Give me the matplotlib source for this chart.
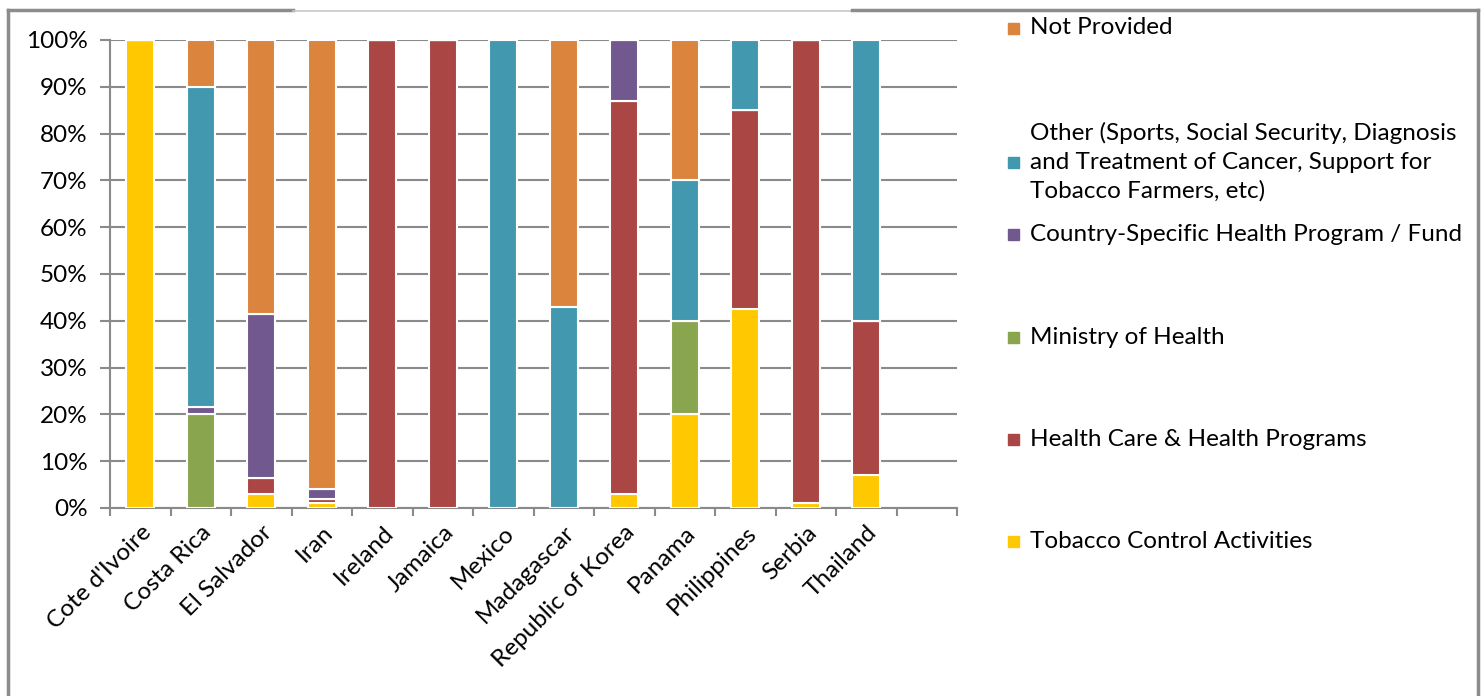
import numpy as np
import matplotlib
matplotlib.use("Agg")
import matplotlib.pyplot as plt
from matplotlib.lines import Line2D
from matplotlib.patches import Rectangle

plt.rcParams['font.family'] = ['Lato', 'DejaVu Sans']

# data (percent of each country's earmarked revenue)
countries = ["Cote d'Ivoire", "Costa Rica", "El Salvador", "Iran", "Ireland", "Jamaica",
             "Mexico", "Madagascar", "Republic of Korea", "Panama", "Philippines",
             "Serbia", "Thailand"]
tobacco   = [100, 0, 3, 1, 0, 0, 0, 0, 3, 20, 42.5, 1, 7]
health    = [0, 0, 3.5, 1, 100, 100, 0, 0, 84, 0, 42.5, 99, 33]
ministry  = [0, 20, 0, 0, 0, 0, 0, 0, 0, 20, 0, 0, 0]
country   = [0, 1.5, 35, 2, 0, 0, 0, 0, 13, 0, 0, 0, 0]
other     = [0, 68.5, 0, 0, 0, 0, 100, 43, 0, 30, 15, 0, 60]
not_prov  = [0, 10, 58.5, 96, 0, 0, 0, 57, 0, 30, 0, 0, 0]

series = [
    ("Tobacco Control Activities", tobacco, "#FFC800"),
    ("Health Care & Health Programs", health, "#AA4643"),
    ("Ministry of Health", ministry, "#89A54E"),
    ("Country-Specific Health Program / Fund", country, "#71588F"),
    ("Other (Sports, Social Security, Diagnosis\nand Treatment of Cancer, Support for\nTobacco Farmers, etc)", other, "#4198AF"),
    ("Not Provided", not_prov, "#DB843D"),
]

W, H = 1481, 696
fig = plt.figure(figsize=(W / 100, H / 100), dpi=100)

def fx(px):
    return px / W

def fy(py):
    return 1 - py / H

ax = fig.add_axes([fx(110), fy(508), fx(957) - fx(110), fy(40) - fy(508)])

x = np.arange(len(countries))
bottom = np.zeros(len(countries))
for name, vals, col in series:
    vals = np.array(vals, dtype=float)
    ax.bar(x, vals, 0.47, bottom=bottom, color=col, edgecolor="white", linewidth=1.5, zorder=3)
    bottom += vals

gray = "#8A8A8A"
fs = 17.5
ax.set_ylim(0, 100)
ax.set_xlim(-0.5, 13.5)
ax.set_yticks(np.arange(0, 101, 10))
ax.set_yticklabels([f"{v}%" for v in range(0, 101, 10)], fontsize=fs)
ax.yaxis.grid(True, color=gray, linewidth=1.5, zorder=0)
ax.set_xticks(np.arange(-0.5, 14, 1))
ax.set_xticklabels([])
ax.set_xticks(x, minor=True)
ax.set_xticklabels(countries, minor=True, rotation=45, ha="right", rotation_mode="anchor", fontsize=fs)
ax.tick_params(axis="x", which="minor", length=0, pad=10)
ax.tick_params(axis="x", which="major", length=6, width=1.5, color=gray)
ax.tick_params(axis="y", length=7, width=1.5, color=gray, pad=9)
for s in ["top", "right"]:
    ax.spines[s].set_visible(False)
for s in ["left", "bottom"]:
    ax.spines[s].set_color(gray)
    ax.spines[s].set_linewidth(1.5)

# legend, drawn by hand (top entry = last series)
leg_y = [28, 162, 234, 337, 439, 541]
for (name, vals, col), yy in zip(series[::-1], leg_y):
    fig.patches.append(Rectangle((fx(1008), fy(yy + 6)), fx(11), fy(0) - fy(11),
                                 transform=fig.transFigure, color=col))
    fig.text(fx(1030), fy(yy), name, fontsize=fs, va="center", ha="left", linespacing=1.45)

# outer frame
fc = "#8C8C8C"
fig.add_artist(Line2D([fx(8), fx(8)], [fy(10), 0], transform=fig.transFigure, color=fc, lw=2.5))
fig.add_artist(Line2D([fx(1478), fx(1478)], [fy(10), 0], transform=fig.transFigure, color=fc, lw=2.5))
fig.add_artist(Line2D([fx(8), fx(293)], [fy(10), fy(10)], transform=fig.transFigure, color=fc, lw=2.5))
fig.add_artist(Line2D([fx(293), fx(852)], [fy(11), fy(11)], transform=fig.transFigure, color="#C8C8C8", lw=1.2))
fig.add_artist(Line2D([fx(852), fx(1478)], [fy(10), fy(10)], transform=fig.transFigure, color=fc, lw=2.5))

fig.savefig("out.png", dpi=100)
